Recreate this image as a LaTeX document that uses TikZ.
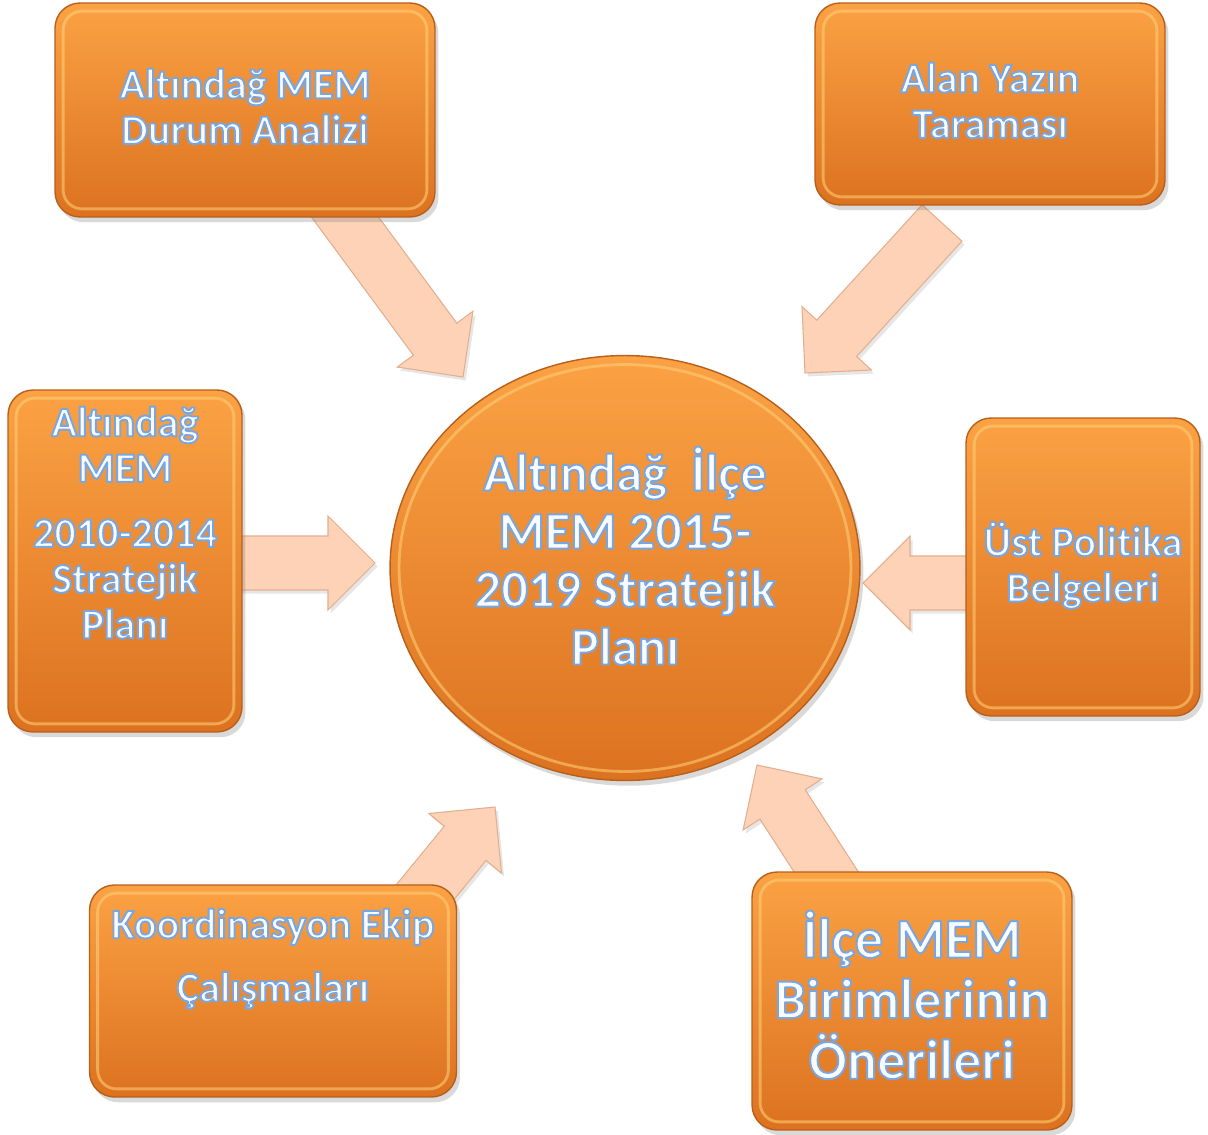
\documentclass[tikz,border=0pt]{standalone}
\usepackage{fontspec}
\setmainfont{Carlito}[Ligatures=CommonOff]
\usetikzlibrary{calc}
\usetikzlibrary{positioning}
\usetikzlibrary{shapes.geometric}
\usetikzlibrary{shadows}

\definecolor{kutuust}{HTML}{FBA244}
\definecolor{kutualt}{HTML}{DC7220}
\definecolor{kenar}{HTML}{B85F1A}
\definecolor{parlak}{HTML}{FFD27A}
\definecolor{okrenk}{HTML}{FDD2B7}
\definecolor{okkenar}{HTML}{E3AE8E}
\definecolor{yazirenk}{HTML}{F8FBFF}

% white letters with a light blue edge
\newcommand{\yz}[1]{\special{pdf:literal direct 2 Tr 1.1 w 1 j 0.47 0.65 0.88 RG}#1\special{pdf:literal direct 0 Tr}}

\pgfdeclarelayer{arka}
\pgfsetlayers{arka,main}

\tikzset{
  kutu/.style={rectangle, rounded corners=0.5cm, inner sep=0pt,
    top color=kutuust, bottom color=kutualt, draw=kenar, line width=0.8pt,
    drop shadow={opacity=0.3, shadow xshift=2pt, shadow yshift=-3pt}},
  daire/.style={ellipse, inner sep=0pt, minimum width=9.4cm, minimum height=8.5cm,
    top color=kutuust, bottom color=kutualt, draw=kenar, line width=0.8pt,
    drop shadow={opacity=0.3, shadow xshift=2pt, shadow yshift=-3pt}},
  parilti/.style={draw=parlak, line width=1.6pt, opacity=0.55},
  etiket/.style={inner sep=0pt, align=center, text=yazirenk,
    font=\bfseries\fontsize{24}{26}\selectfont},
  okstil/.style={fill=okrenk, draw=okkenar, line width=0.6pt,
    drop shadow={opacity=0.2, shadow xshift=1.5pt, shadow yshift=-2pt}}
}

% block arrow: start, tip
\newcommand{\blokok}[2]{%
  \coordinate (hb) at ($(#2)!0.94cm!(#1)$);
  \filldraw[okstil] ($(#1)!0.54cm!90:(#2)$) -- ($(hb)!0.54cm!90:(#2)$)
    -- ($(hb)!0.94cm!90:(#2)$) -- (#2) -- ($(hb)!0.94cm!-90:(#2)$)
    -- ($(hb)!0.54cm!-90:(#2)$) -- ($(#1)!0.54cm!-90:(#2)$) -- cycle;
}

\begin{document}
\begin{tikzpicture}[x=0.02cm, y=-0.02cm]
  \useasboundingbox (0,0) rectangle (1208,1135);

  % centre
  \node[daire] (merkez) at (625,568) {};
  \draw[parilti] (merkez.center) ellipse [x radius=4.52cm, y radius=4.07cm];

  % boxes
  \node[kutu, minimum width=7.6cm, minimum height=4.28cm] (durum) at (245,110) {};
  \node[kutu, minimum width=7.0cm, minimum height=4.04cm] (alan) at (990,104) {};
  \node[kutu, minimum width=4.68cm, minimum height=6.84cm] (eskiplan) at (125,561) {};
  \node[kutu, minimum width=4.68cm, minimum height=5.96cm] (politika) at (1083,567) {};
  \node[kutu, minimum width=7.34cm, minimum height=4.24cm] (koord) at (273,991) {};
  \node[kutu, minimum width=6.4cm, minimum height=5.16cm] (birim) at (912,1001) {};

  \foreach \k in {durum,alan,eskiplan,politika,koord,birim}{
    \draw[parilti, rounded corners=0.38cm] ([shift={(5pt,-5pt)}]\k.north west)
      rectangle ([shift={(-5pt,5pt)}]\k.south east);
  }

  % texts
  \node[etiket, yshift=2pt] (durumyazi) at (durum) {\yz{Altındağ MEM}\\\yz{Durum Analizi}};
  \node[etiket, yshift=2pt] (alanyazi) at (alan) {\yz{Alan Yazın}\\\yz{Taraması}};
  \node[etiket, below=0.34cm of eskiplan.north] (eskiyazi)
    {\yz{Altındağ}\\\yz{MEM}\\[11pt]\yz{2010-2014}\\\yz{Stratejik}\\\yz{Planı}};
  \node[etiket, yshift=1pt] (politikayazi) at (politika) {\yz{Üst Politika}\\\yz{Belgeleri}};
  \node[etiket, below=0.48cm of koord.north] (koordyazi)
    {\yz{Koordinasyon Ekip}\\[10pt]\yz{Çalışmaları}};
  \node[etiket, font=\bfseries\fontsize{32}{34.5}\selectfont, yshift=3.5pt] (birimyazi) at (birim)
    {\yz{İlçe MEM}\\\yz{Birimlerinin}\\\yz{Önerileri}};
  \node[etiket, font=\bfseries\fontsize{30}{33}\selectfont, yshift=7pt] (merkezyazi) at (merkez)
    {\yz{Altındağ\ \ İlçe}\\\yz{MEM 2015-}\\\yz{2019 Stratejik}\\\yz{Planı}};

  % arrow ends
  \coordinate (durumok) at (328,194);   \coordinate (durumuc) at (463,377);
  \coordinate (alanok) at (942,223);    \coordinate (alanuc) at (805,373);
  \coordinate (eskiok) at (235,563);    \coordinate (eskiuc) at (375,563);
  \coordinate (politikaok) at (975,583); \coordinate (politikauc) at (863,583);
  \coordinate (koordok) at (408,913);   \coordinate (koorduc) at (495,807);
  \coordinate (birimok) at (836,887);   \coordinate (birimuc) at (757,765);

  \begin{pgfonlayer}{arka}
    \foreach \o in {durum,alan,eski,politika,koord,birim}{
      \blokok{\o ok}{\o uc}
    }
  \end{pgfonlayer}
\end{tikzpicture}
\end{document}
